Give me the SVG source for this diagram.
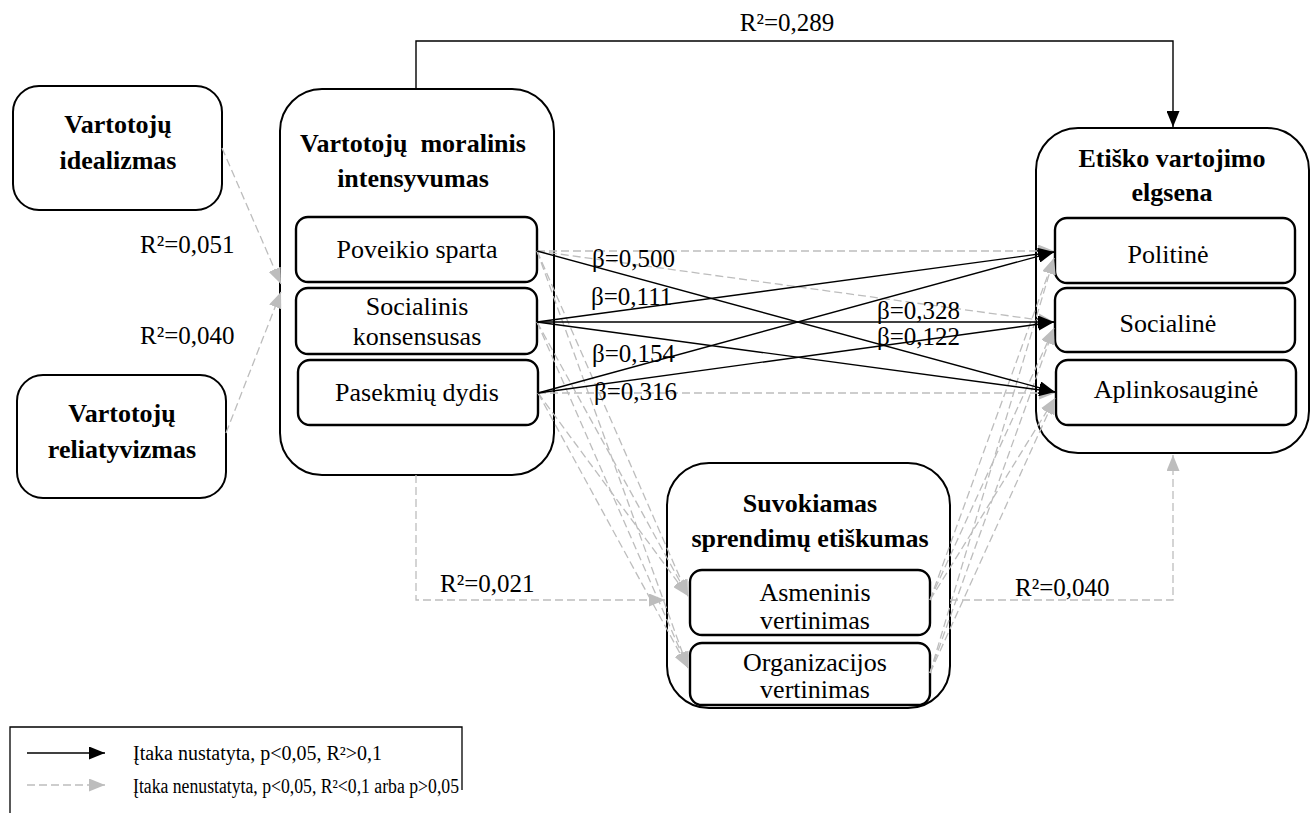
<svg xmlns="http://www.w3.org/2000/svg" width="1315" height="813" viewBox="0 0 1315 813" font-family="'Liberation Serif', 'Times New Roman', serif">
<style>
.box{fill:#fff;stroke:#000;stroke-width:2}
.ibox{fill:#fff;stroke:#000;stroke-width:2.4}
.ctr{font-family:'Liberation Serif','Times New Roman',serif;font-size:26px;fill:#000;text-anchor:middle}
.bold{font-weight:bold}
.lab{font-family:'Liberation Serif','Times New Roman',serif;font-size:25px;fill:#000}
.leg{font-family:'Liberation Serif','Times New Roman',serif;font-size:20px;fill:#000}
.s{fill:none;stroke:#000;stroke-width:1.4}
.d{fill:none;stroke:#bdbdbd;stroke-width:1.3;stroke-dasharray:8 4}
</style>
<defs>
<marker id="ab" markerUnits="userSpaceOnUse" markerWidth="17" markerHeight="13" refX="16" refY="6.5" orient="auto"><path d="M0,0 L16,6.5 L0,13 z" fill="#000"/></marker>
<marker id="ag" markerUnits="userSpaceOnUse" markerWidth="17" markerHeight="13" refX="16" refY="6.5" orient="auto"><path d="M0,0 L16,6.5 L0,13 z" fill="#bdbdbd"/></marker>
</defs>

<g id="n-idealizmas">
<rect class="box" x="13" y="86" width="209" height="124" rx="26"/>
<text class="ctr bold" font-family="'Liberation Serif', serif" x="118" y="133">Vartotojų</text>
<text class="ctr bold" font-family="'Liberation Serif', serif" x="118" y="169">idealizmas</text>
</g>
<g id="n-reliatyvizmas">
<rect class="box" x="17" y="375" width="209" height="123" rx="26"/>
<text class="ctr bold" font-family="'Liberation Serif', serif" x="122" y="422">Vartotojų</text>
<text class="ctr bold" font-family="'Liberation Serif', serif" x="122" y="458">reliatyvizmas</text>
</g>

<g id="n-moralinis">
<rect class="box" x="280" y="89" width="274" height="386" rx="42"/>
<text class="ctr bold" font-family="'Liberation Serif', serif" x="413" y="152" xml:space="preserve">Vartotojų  moralinis</text>
<text class="ctr bold" font-family="'Liberation Serif', serif" x="413" y="187">intensyvumas</text>
</g>
<g id="n-poveikio">
<rect class="ibox" x="296" y="217" width="241" height="65" rx="12"/>
<text class="ctr" font-family="'Liberation Serif', serif" x="417" y="258">Poveikio sparta</text>
</g>
<g id="n-socialinis">
<rect class="ibox" x="296" y="288" width="241" height="66" rx="12"/>
<text class="ctr" font-family="'Liberation Serif', serif" x="417" y="315">Socialinis</text>
<text class="ctr" font-family="'Liberation Serif', serif" x="417" y="345">konsensusas</text>
</g>
<g id="n-pasekmiu">
<rect class="ibox" x="298" y="360" width="240" height="65" rx="12"/>
<text class="ctr" font-family="'Liberation Serif', serif" x="417" y="401">Pasekmių dydis</text>
</g>

<g id="n-elgsena">
<rect class="box" x="1036" y="128" width="273" height="325" rx="42"/>
<text class="ctr bold" font-family="'Liberation Serif', serif" x="1172" y="167">Etiško vartojimo</text>
<text class="ctr bold" font-family="'Liberation Serif', serif" x="1172" y="201">elgsena</text>
</g>
<g id="n-politine">
<rect class="ibox" x="1055" y="218" width="240" height="65" rx="12"/>
<text class="ctr" font-family="'Liberation Serif', serif" x="1168" y="263">Politinė</text>
</g>
<g id="n-sociline">
<rect class="ibox" x="1055" y="288" width="240" height="64" rx="12"/>
<text class="ctr" font-family="'Liberation Serif', serif" x="1168" y="332">Socialinė</text>
</g>
<g id="n-aplinkosaugine">
<rect class="ibox" x="1056" y="360" width="240" height="65" rx="12"/>
<text class="ctr" font-family="'Liberation Serif', serif" x="1176" y="398">Aplinkosauginė</text>
</g>

<g id="n-etiskumas">
<rect class="box" x="667" y="463" width="283" height="245" rx="42"/>
<text class="ctr bold" font-family="'Liberation Serif', serif" x="810" y="512">Suvokiamas</text>
<text class="ctr bold" font-family="'Liberation Serif', serif" x="810" y="547">sprendimų etiškumas</text>
</g>
<g id="n-asmeninis">
<rect class="ibox" x="690" y="570" width="240" height="65" rx="12"/>
<text class="ctr" font-family="'Liberation Serif', serif" x="815" y="601">Asmeninis</text>
<text class="ctr" font-family="'Liberation Serif', serif" x="815" y="629">vertinimas</text>
</g>
<g id="n-organizacijos">
<rect class="ibox" x="690" y="643" width="240" height="62" rx="12"/>
<text class="ctr" font-family="'Liberation Serif', serif" x="815" y="671">Organizacijos</text>
<text class="ctr" font-family="'Liberation Serif', serif" x="815" y="698">vertinimas</text>
</g>

<g id="connectors">
<path class="s" d="M416,89 V41 H1173 V127" marker-end="url(#ab)"/>
<path class="d" d="M222,148 L281,284" marker-end="url(#ag)"/>
<path class="d" d="M226,433 L281,292" marker-end="url(#ag)"/>
<path class="d" d="M416,475 V600 H665" marker-end="url(#ag)"/>
<path class="d" d="M950,600 H1173 V455" marker-end="url(#ag)"/>
<path class="d" d="M537,251 L1054,251" marker-end="url(#ag)"/>
<path class="d" d="M537,251 L1054,322" marker-end="url(#ag)"/>
<path class="d" d="M538,393 L1055,393" marker-end="url(#ag)"/>
<path class="d" d="M537,251 L688,596" marker-end="url(#ag)"/>
<path class="d" d="M537,251 L688,668" marker-end="url(#ag)"/>
<path class="d" d="M537,322 L688,596" marker-end="url(#ag)"/>
<path class="d" d="M537,322 L688,668" marker-end="url(#ag)"/>
<path class="d" d="M538,393 L688,596" marker-end="url(#ag)"/>
<path class="d" d="M538,393 L688,668" marker-end="url(#ag)"/>
<path class="d" d="M930,600 L1054,258" marker-end="url(#ag)"/>
<path class="d" d="M930,600 L1054,328" marker-end="url(#ag)"/>
<path class="d" d="M930,600 L1055,398" marker-end="url(#ag)"/>
<path class="d" d="M930,673 L1054,258" marker-end="url(#ag)"/>
<path class="d" d="M930,673 L1054,328" marker-end="url(#ag)"/>
<path class="d" d="M930,673 L1055,398" marker-end="url(#ag)"/>
<path class="s" d="M537,251 L1055,392" marker-end="url(#ab)"/>
<path class="s" d="M537,322 L1054,252" marker-end="url(#ab)"/>
<path class="s" d="M537,322 L1054,322" marker-end="url(#ab)"/>
<path class="s" d="M537,322 L1055,392" marker-end="url(#ab)"/>
<path class="s" d="M538,393 L1054,252" marker-end="url(#ab)"/>
<path class="s" d="M538,393 L1054,322" marker-end="url(#ab)"/>
</g>

<g id="labels">
<text class="lab" x="787" y="31" text-anchor="middle">R²=0,289</text>
<text class="lab" x="140" y="253">R²=0,051</text>
<text class="lab" x="140" y="344">R²=0,040</text>
<text class="lab" x="440" y="592">R²=0,021</text>
<text class="lab" x="1015" y="596">R²=0,040</text>
<text class="lab" x="592" y="267">β=0,500</text>
<text class="lab" x="591" y="305">β=0,111</text>
<text class="lab" x="592" y="362">β=0,154</text>
<text class="lab" x="594" y="400">β=0,316</text>
<text class="lab" x="877" y="319">β=0,328</text>
<text class="lab" x="877" y="345">β=0,122</text>
</g>

<g id="legend">
<path d="M10,813 V727 H462 V790" fill="none" stroke="#000" stroke-width="1.3"/>
<path class="s" d="M27,753 H105" marker-end="url(#ab)"/>
<path class="d" d="M27,785 H105" marker-end="url(#ag)"/>
<text class="leg" x="133" y="760">Įtaka nustatyta, p&lt;0,05, R²&gt;0,1</text>
<text class="leg" x="133" y="793" textLength="326" lengthAdjust="spacingAndGlyphs">Įtaka nenustatyta, p&lt;0,05, R²&lt;0,1 arba p&gt;0,05</text>
</g>
</svg>
